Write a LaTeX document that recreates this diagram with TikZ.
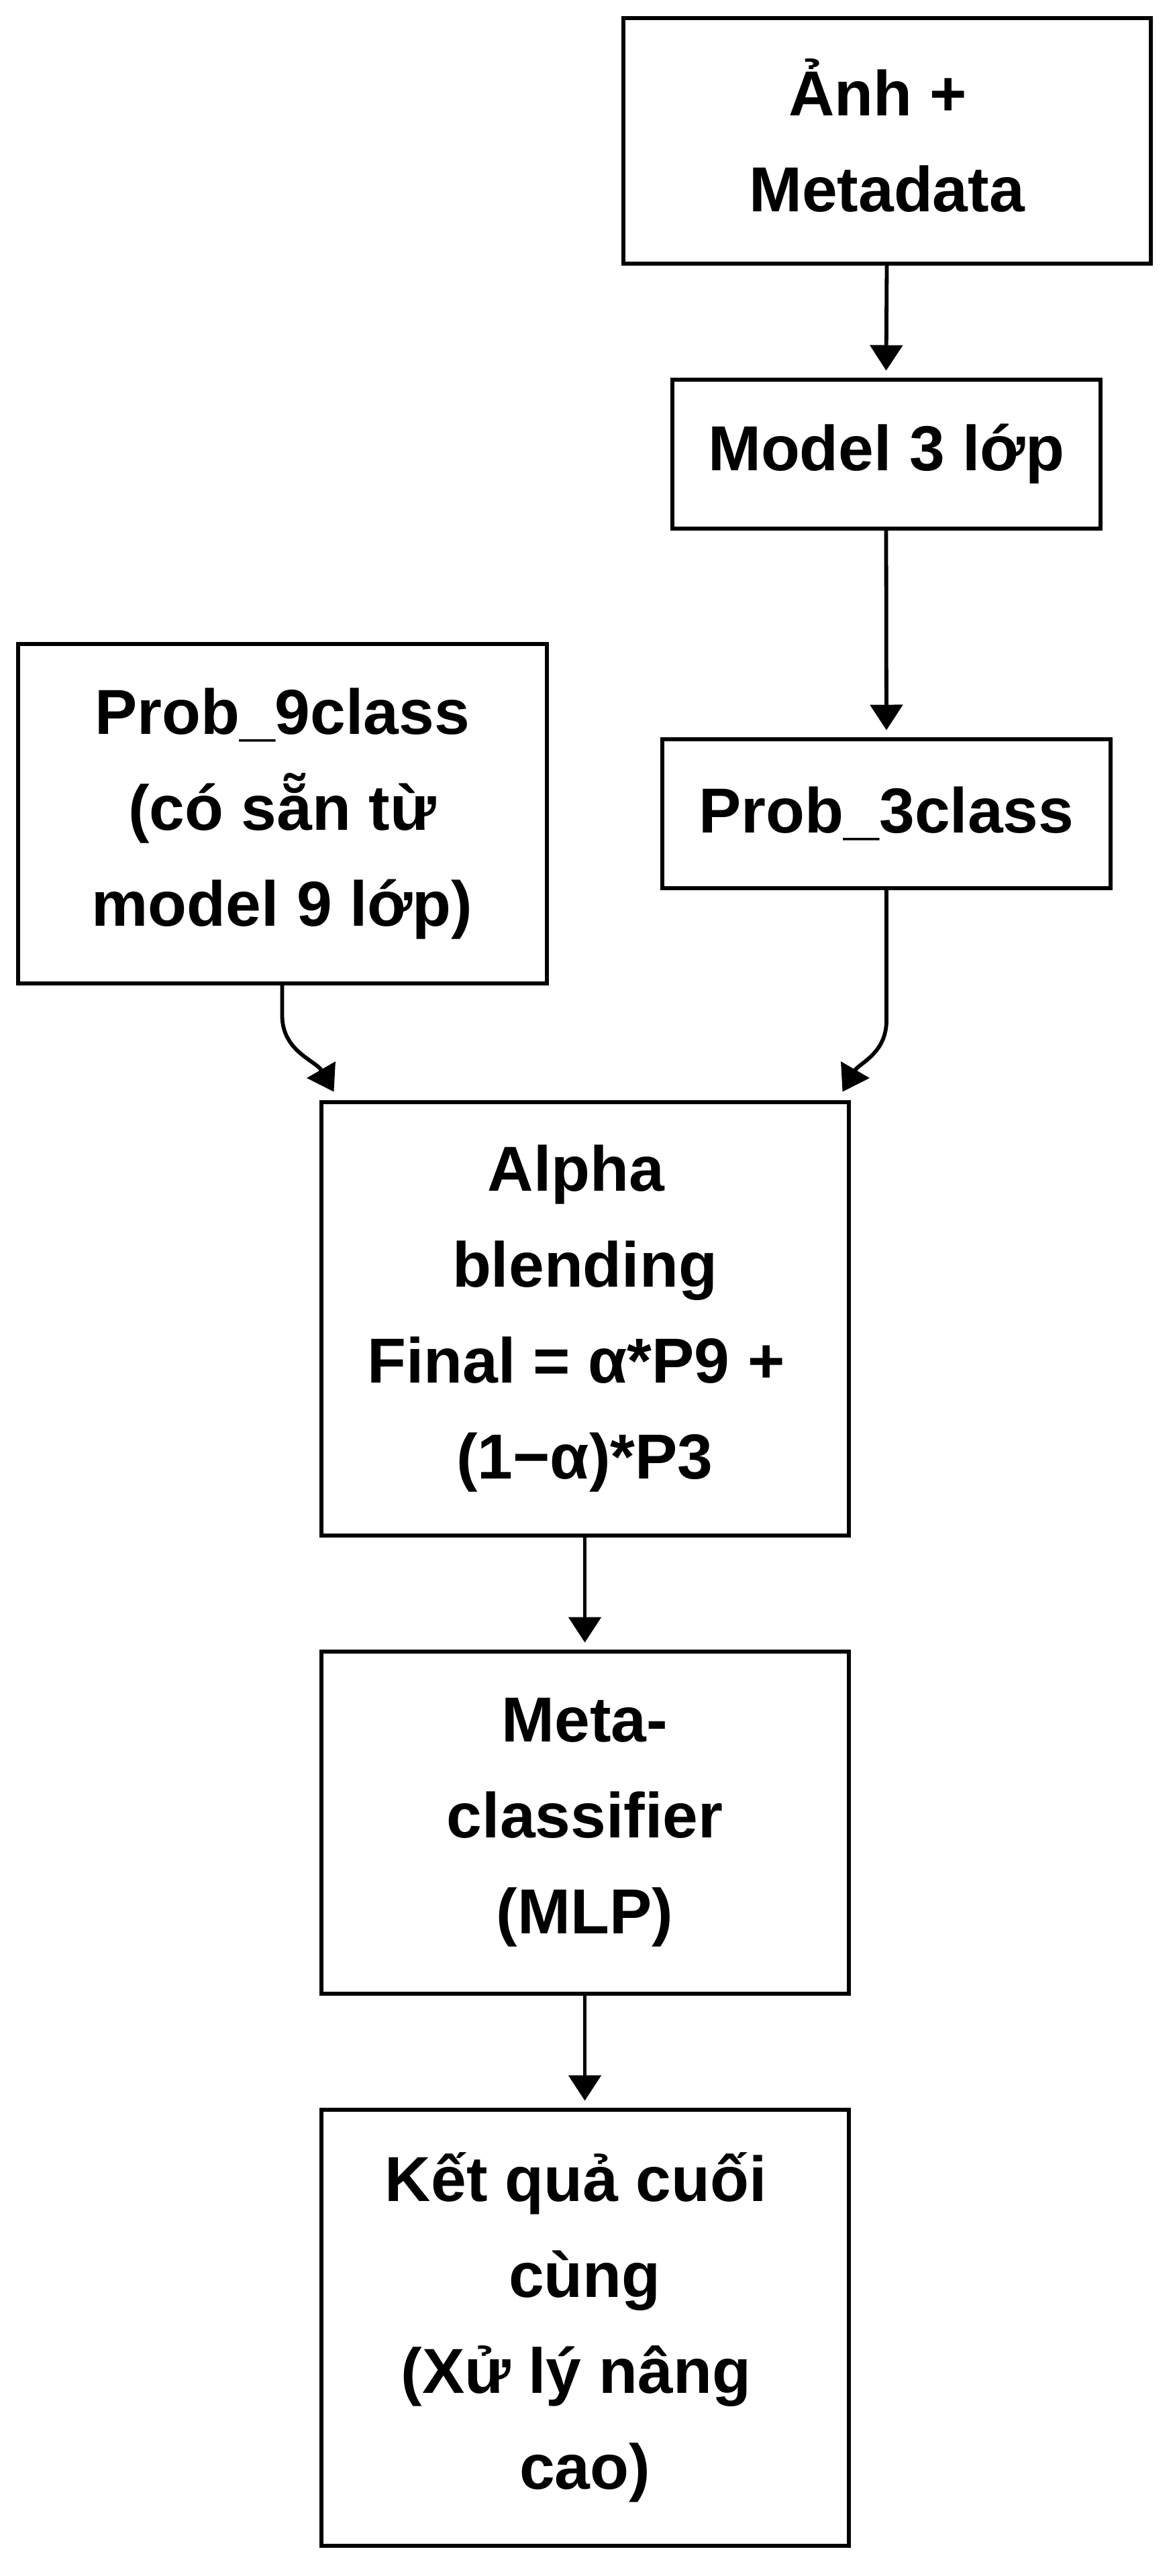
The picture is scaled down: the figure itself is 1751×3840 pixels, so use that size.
\documentclass[tikz,border=0pt]{standalone}
\usepackage{fontspec}
\setmainfont{Liberation Sans}
\usetikzlibrary{arrows.meta,calc,shadows}
\newcommand\tsp{\rule{0.278em}{0pt}}
\begin{document}
\begin{tikzpicture}[x=0.5pt,y=-0.5pt,
  box/.style={draw=black,line width=3pt,fill=white,inner sep=0pt,align=center,
    font=\fontsize{47.4pt}{71.5pt}\selectfont\bfseries,
    drop shadow={shadow xshift=1pt,shadow yshift=-1.5pt,opacity=0.12}},
  arr/.style={draw=black,line width=2.9pt,-{Triangle[width=24pt,length=19pt]},shorten >=5pt}]
\useasboundingbox[fill=white] (0,0) rectangle (1751,3840);
\node[box,minimum width=393pt,minimum height=183pt] (A) at (1321.5,210) {\smash{Ả}nh +\tsp\\Metadata};
\node[box,minimum width=319pt,minimum height=111pt] (B) at (1320.5,676.5) {Model 3 lớp};
\node[box,minimum width=394pt,minimum height=253pt] (C) at (420.5,1212.5) {Prob\_9class\\(có sẵn từ\\model 9 lớp)};
\node[box,minimum width=334pt,minimum height=111pt] (D) at (1321,1212.5) {Prob\_3class};
\node[box,minimum width=393pt,minimum height=323pt] (E) at (871.5,1965.5) {Alpha\tsp\\blending\\Final = α*P9 +\tsp\\(1−α)*P3};
\node[box,minimum width=393pt,minimum height=255pt] (F) at (871.5,2716.5) {Meta-\\classifier\\(MLP)};
\node[box,minimum width=393pt,minimum height=325pt] (G) at (871.5,3469.5) {Kết quả cuối\tsp\\cùng\\(Xử lý nâng\tsp\\cao)};
\coordinate (eL) at ($(E.north west)+(22,-12)$);
\coordinate (eR) at ($(E.north east)+(-12,-12)$);
\draw[arr] (A.south) -- (B.north);
\draw[arr] (B.south) -- (D.north);
\draw[arr,shorten >=0pt] (C.south) -- ++(0,45) to[out=-90,in=120] (eL);
\draw[arr,shorten >=0pt] (D.south) -- ++(0,195) to[out=-90,in=60] (eR);
\draw[arr] (E.south) -- (F.north);
\draw[arr] (F.south) -- (G.north);
\end{tikzpicture}
\end{document}
